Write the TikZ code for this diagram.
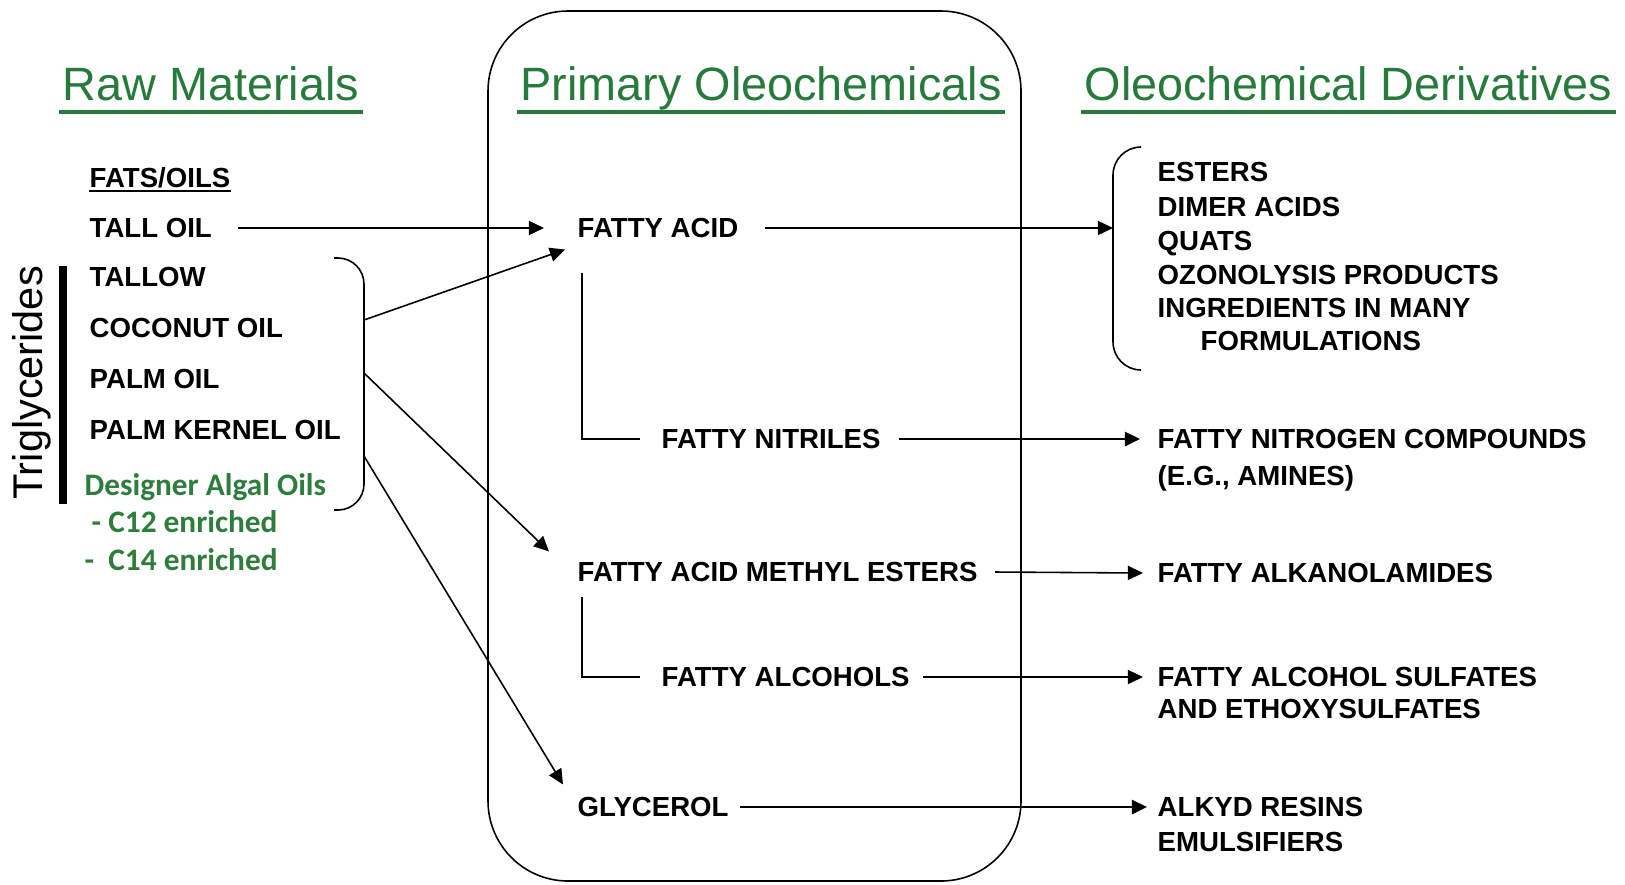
\documentclass[tikz,border=0pt]{standalone}
\usepackage{fontspec}
\setmainfont{Liberation Sans}
\newfontfamily\calfont{Carlito}
\usetikzlibrary{arrows.meta}
\definecolor{hgreen}{RGB}{38,122,60}
\definecolor{agreen}{RGB}{46,125,60}
\begin{document}
\begin{tikzpicture}[x=0.01cm,y=-0.01cm,
 body/.style={font=\fontsize{7.85}{9.6}\selectfont\bfseries, anchor=west, inner sep=0pt, text height=0.196cm, text depth=0pt},
 head/.style={font=\fontsize{13.3}{15}\selectfont, text=hgreen, anchor=base west, inner sep=0pt},
 grn/.style={font=\calfont\fontsize{8.9}{10}\selectfont\bfseries, text=agreen, anchor=west, inner sep=0pt, text height=0.19cm, text depth=0pt},
 arr/.style={-{Triangle[length=4.3pt,width=4pt]}, line width=0.45pt},
 arrb/.style={arr, line width=0.75pt},
 ln/.style={line width=0.45pt},
 ul/.style={hgreen, line width=1pt}]
\useasboundingbox (0,0) rectangle (1625,884);
% frame
\draw[ln, rounded corners=0.8cm] (488,11) rectangle (1021,881);
% headings
\node[head] (raw) at (62,100) {Raw Materials};
\node[head] (prim) at (520,100) {Primary Oleochemicals};
\node[head] (deriv) at (1084,100) {Oleochemical Derivatives};
\foreach \h in {raw,prim,deriv}
  \draw[ul] ([xshift=-0.03cm,yshift=-0.12cm]\h.base west) -- ([xshift=0.03cm,yshift=-0.12cm]\h.base east);
% left column
\node[body] (fats) at (89,178) {FATS/OILS};
\draw[line width=0.6pt] ([yshift=-0.025cm]fats.south west) -- ([yshift=-0.025cm]fats.south east);
\node[body] (tall) at (89,228) {TALL OIL};
\node[body] (tallow) at (89,277) {TALLOW};
\node[body] (coco) at (89,328) {COCONUT OIL};
\node[body] (palm) at (89,379) {PALM OIL};
\node[body] (pko) at (89,430) {PALM KERNEL OIL};
\node[grn] (alg) at (84,486) {Designer Algal Oils};
\node[grn] (c12) at (91,523) {- C12 enriched};
\node[grn] (c14) at (84,561) {-\ \ C14 enriched};
\node[font=\fontsize{11.8}{13}\selectfont, rotate=90, inner sep=0pt] (trig) at (32,383) {Triglycerides};
\fill (59,266) rectangle (67,504);
\draw[ln, rounded corners=0.26cm] (334,258) -- (364,258) -- (364,510) -- (334,510);
\coordinate (b1) at (364,320);
\coordinate (b2) at (364,373);
\coordinate (b3) at (364,456);
% middle column
\node[body] (facid) at (577,228) {FATTY ACID};
\node[body] (fnit) at (661,439) {FATTY NITRILES};
\node[body] (fame) at (577,572) {FATTY ACID METHYL ESTERS};
\node[body] (falc) at (661,677) {FATTY ALCOHOLS};
\node[body] (glyc) at (577,807) {GLYCEROL};
% right column
\node[body] (est) at (1157,172) {ESTERS};
\node[body] (dim) at (1157,207) {DIMER ACIDS};
\node[body] (quat) at (1157,241) {QUATS};
\node[body] (ozo) at (1157,275) {OZONOLYSIS PRODUCTS};
\node[body] (ing) at (1157,308) {INGREDIENTS IN MANY};
\node[body] (form) at (1200,341) {FORMULATIONS};
\node[body] (fnc) at (1157,439) {FATTY NITROGEN COMPOUNDS};
\node[body] (eg) at (1157,476) {(E.G., AMINES)};
\node[body] (falk) at (1157,573) {FATTY ALKANOLAMIDES};
\node[body] (fas) at (1157,677) {FATTY ALCOHOL SULFATES};
\node[body] (eth) at (1157,709) {AND ETHOXYSULFATES};
\node[body] (alk) at (1157,807) {ALKYD RESINS};
\node[body] (emu) at (1157,842) {EMULSIFIERS};
\draw[ln, rounded corners=0.28cm] (1141,147) -- (1113,147) -- (1113,370) -- (1141,370);
\coordinate (rb) at (1113,228);
% connectors
\draw[arr] ([xshift=0.25cm]tall.east) -- ([xshift=-0.33cm]facid.west);
\draw[arr] (b1) -- ([xshift=-0.12cm,yshift=-0.11cm]facid.south west);
\draw[arr] (b2) -- ([xshift=-0.28cm,yshift=0.10cm]fame.north west);
\draw[arr] (b3) -- ([xshift=-0.14cm,yshift=0.12cm]glyc.north west);
\draw[arr] ([xshift=0.26cm]facid.east) -- (rb);
\draw[arrb] ([xshift=0.18cm]fnit.east) -- ([xshift=-0.17cm]fnc.west);
\draw[arr] ([xshift=0.17cm]fame.east) -- ([xshift=-0.14cm]falk.west);
\draw[arr] ([xshift=0.13cm]falc.east) -- ([xshift=-0.14cm]fas.west);
\draw[arrb] ([xshift=0.11cm]glyc.east) -- ([xshift=-0.10cm]alk.west);
\draw[ln] ([xshift=0.05cm,yshift=-0.34cm]facid.south west) |- ([xshift=-0.21cm]fnit.west);
\draw[ln] ([xshift=0.05cm,yshift=-0.14cm]fame.south west) |- ([xshift=-0.21cm]falc.west);
\end{tikzpicture}
\end{document}
